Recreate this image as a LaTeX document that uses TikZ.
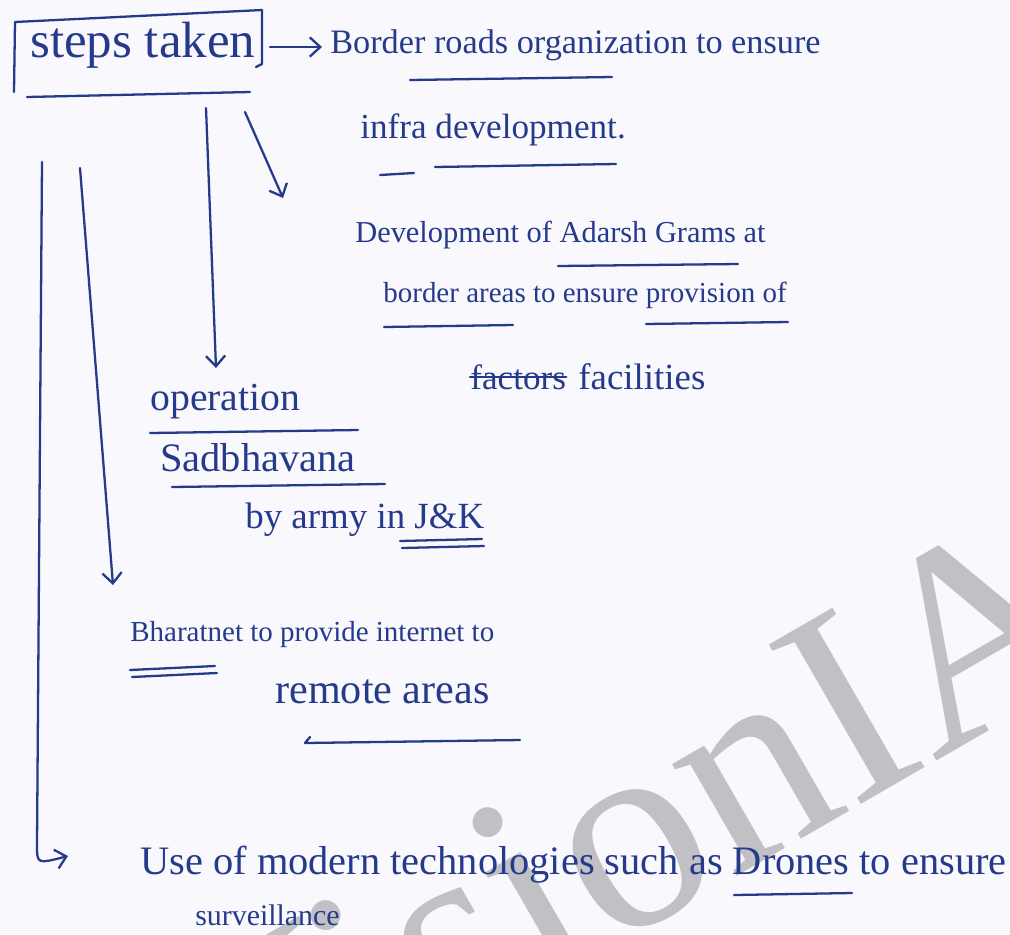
\documentclass[tikz,border=0pt]{standalone}
\usepackage{fontspec}
\setmainfont{Liberation Serif}
\usetikzlibrary{arrows.meta}
\definecolor{ink}{RGB}{38,58,140}
\definecolor{paper}{RGB}{249,248,252}
\definecolor{wmgray}{RGB}{192,192,197}
\newcommand{\hsz}[1]{\fontsize{#1}{#1}\selectfont}
\tikzset{
  hand/.style={draw=ink, line width=1.3pt, line cap=round, line join=round},
  harrow/.style={hand, -{Straight Barb[length=6pt,width=11pt,line width=1.3pt]}},
  txt/.style={text=ink, inner sep=0pt, anchor=west},
}
\begin{document}
\begin{tikzpicture}[x=0.02cm,y=-0.02cm]
\fill[paper] (0,0) rectangle (1010,934);
\useasboundingbox (0,0) rectangle (1010,934);
% watermark
\begin{scope}
  \clip (0,0) rectangle (1010,934);
  \node[text=wmgray, rotate=30, anchor=base west, inner sep=0pt, font=\hsz{160}] (wmk) at (218,1176) {VisionIAS};
\end{scope}
% texts
\node[txt, font=\hsz{29}] (steps) at (30,45) {steps taken};
\node[txt, font=\hsz{19.5}] (bro) at (330,45) {Border roads organization to ensure};
\node[txt, font=\hsz{20}] (infra) at (360,130) {infra development.};
\node[txt, font=\hsz{17.3}] (adarsh) at (355,235) {Development of Adarsh Grams at};
\node[txt, font=\hsz{16.5}] (border) at (383,295) {border areas to ensure provision of};
\node[txt, font=\hsz{20}] (factors) at (470,377) {factors};
\node[txt, font=\hsz{21}] (facil) at (578,377) {facilities};
\node[txt, font=\hsz{22.6}] (oper) at (150,402) {operation};
\node[txt, font=\hsz{23}] (sadb) at (160,458) {Sadbhavana};
\node[txt, font=\hsz{21}] (army) at (245,520) {by army in J\&K};
\node[txt, font=\hsz{16.5}] (bnet) at (130,635) {Bharatnet to provide internet to};
\node[txt, font=\hsz{24}] (remote) at (275,692) {remote areas};
\node[txt, font=\hsz{23}] (use) at (140,865) {Use of modern technologies such as Drones to ensure};
\node[txt, font=\hsz{17}] (surv) at (195,915) {surveillance};
% hand-drawn box around "steps taken"
\draw[hand] (262,10) -- (15,22) -- (14,92);
\draw[hand] (262,10) -- (262,64) -- (256,67);
\draw[hand] (27,97) -- (250,92);
% underlines and strike-through
\draw[hand] (410,80) -- (612,77);
\draw[hand] (380,175) -- (414,173);
\draw[hand] (435,167) -- (616,164);
\draw[hand] (558,266) -- (738,264);
\draw[hand] (384,327) -- (513,325);
\draw[hand] (646,324) -- (788,322);
\draw[hand] (factors.west) -- (factors.east);
\draw[hand] (150,433) -- (358,430);
\draw[hand] (172,487) -- (385,484);
\draw[hand] (400,541) -- (482,539);
\draw[hand] (402,548) -- (484,546);
\draw[hand] (130,670) -- (215,666);
\draw[hand] (132,677) -- (217,673);
\draw[hand] (310,737) -- (305,743) -- (520,740);
\draw[hand] (734,895) -- (852,893);
% connectors
\coordinate (a1s) at (270,47);
\coordinate (a1e) at (322,47);
\coordinate (a2s) at (245,112);
\coordinate (a2e) at (283,198);
\coordinate (a3s) at (206,108);
\coordinate (a3e) at (216,368);
\coordinate (a4s) at (80,168);
\coordinate (a4e) at (113,585);
\coordinate (a5s) at (42,162);
\coordinate (a5c) at (37,845);
\coordinate (a5e) at (68,856);
\draw[harrow] (a1s) -- (a1e);
\draw[harrow] (a2s) -- (a2e);
\draw[harrow] (a3s) -- (a3e);
\draw[harrow] (a4s) -- (a4e);
\draw[harrow] (a5s) -- (a5c) .. controls (37,864) .. (a5e);
\end{tikzpicture}
\end{document}
